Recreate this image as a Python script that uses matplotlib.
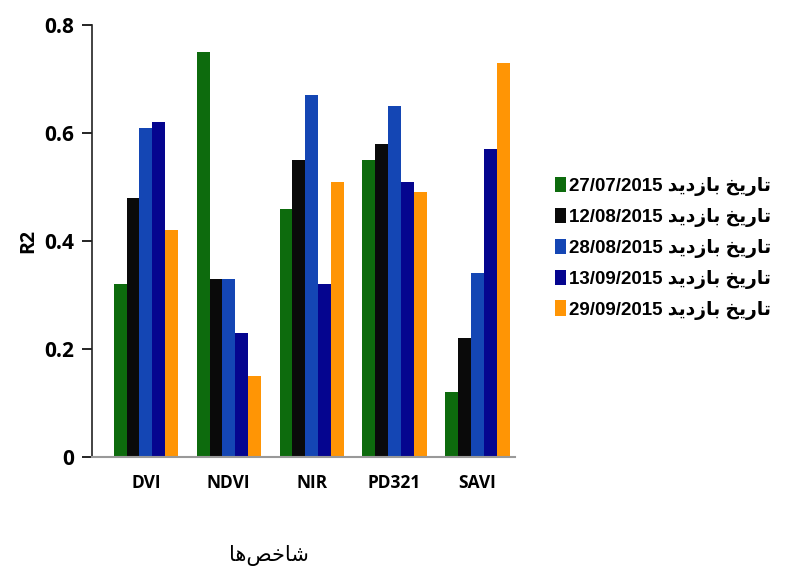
import matplotlib.pyplot as plt
import numpy as np

# indices on the x axis
categories = ["DVI", "NDVI", "NIR", "PD321", "SAVI"]
dates = ["27/07/2015", "12/08/2015", "28/08/2015", "13/09/2015", "29/09/2015"]

# R2 per visit date (one list per date, order follows categories)
r2_0727 = [0.32, 0.75, 0.46, 0.55, 0.12]
r2_0812 = [0.48, 0.33, 0.55, 0.58, 0.22]
r2_0828 = [0.61, 0.33, 0.67, 0.65, 0.34]
r2_0913 = [0.62, 0.23, 0.32, 0.51, 0.57]
r2_0929 = [0.42, 0.15, 0.51, 0.49, 0.73]

colors = ["#0d6b0d", "#0a0a0a", "#1446b4", "#05058f", "#ff9505"]

# Arabic text, pre-shaped (presentation forms) in visual left-to-right order
visit_word = "\uFEAA\uFEF3\uFEA9\uFEAF\uFE8E\uFE91 \uFEA6\uFEF3\uFEAD\uFE8E\uFE97"  # تاريخ بازديد
xlabel_fa = "\uFE8E\uFEEB\uFEBA\uFEA7\uFE8E\uFEB7"  # شاخصها

series = [r2_0727, r2_0812, r2_0828, r2_0913, r2_0929]

fig = plt.figure(figsize=(8.03, 5.76), dpi=100)
ax = fig.add_axes([0.1146, 0.2066, 0.5264, 0.75])

x = np.arange(len(categories))
width = 0.155
handles = []
for i, (vals, col) in enumerate(zip(series, colors)):
    b = ax.bar(x + (i - 2) * width, vals, width, color=col,
               label=dates[i] + " " + visit_word)
    handles.append(b)

ax.set_ylim(0, 0.8)
ax.set_xlim(-0.65, 4.45)
ax.set_yticks([0, 0.2, 0.4, 0.6, 0.8])
ax.set_yticklabels(["0", "0.2", "0.4", "0.6", "0.8"])
ax.set_xticks(x)
ax.set_xticklabels(categories)

for s in ["top", "right"]:
    ax.spines[s].set_visible(False)
ax.spines["left"].set_color("#222222")
ax.spines["left"].set_linewidth(1.2)
ax.spines["bottom"].set_color("#999999")
ax.spines["bottom"].set_linewidth(1.5)

ax.tick_params(axis="y", direction="out", length=7, width=1.2, pad=6)
ax.tick_params(axis="x", length=0, pad=12)
for lab in ax.get_yticklabels():
    lab.set_fontfamily("Open Sans")
    lab.set_fontweight("bold")
    lab.set_fontsize(15)
for lab in ax.get_xticklabels():
    lab.set_fontfamily("Open Sans")
    lab.set_fontweight("bold")
    lab.set_fontsize(12.5)

ax.set_ylabel("R2", fontfamily="Open Sans", fontweight="bold", fontsize=14, labelpad=4)

fig.text(0.335, 0.035, xlabel_fa, fontfamily="DejaVu Sans", fontsize=15,
         ha="center", va="center")

leg = fig.legend(handles=handles, loc="center left", bbox_to_anchor=(0.682, 0.569),
                 frameon=False, handlelength=0.6, handleheight=0.9,
                 handletextpad=0.15, labelspacing=0.62, borderaxespad=0,
                 prop={"family": ["Liberation Sans", "DejaVu Sans"],
                       "weight": "bold", "size": 13.5})

plt.savefig("out.png", dpi=100)
